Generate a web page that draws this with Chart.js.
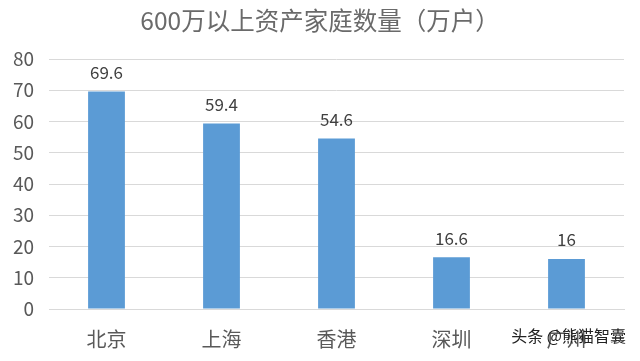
<!DOCTYPE html>
<html><head><meta charset="utf-8">
<script src="https://cdn.jsdelivr.net/npm/chart.js@4/dist/chart.umd.min.js"></script>
<style>html,body{margin:0;padding:0;background:#fff}canvas{display:block}</style>
</head><body>
<canvas id="c" width="640" height="361"></canvas>
<script>
const categories = ['北京', '上海', '香港', '深圳', '广州'];
const values = [69.6, 59.4, 54.6, 16.6, 16];
const yTicks = [0, 10, 20, 30, 40, 50, 60, 70, 80];
const titleText = '600万以上资产家庭数量（万户）';
const watermark = '头条 @熊猫智囊';

const FONT = '"Noto Sans CJK SC", "Noto Sans", sans-serif';

const labelPlugin = {
  id: 'labels',
  afterDatasetsDraw(chart) {
    const ctx = chart.ctx;
    const meta = chart.getDatasetMeta(0);
    ctx.save();
    ctx.font = '17px ' + FONT;
    ctx.fillStyle = '#404040';
    ctx.textAlign = 'center';
    ctx.textBaseline = 'middle';
    meta.data.forEach((bar, i) => {
      ctx.fillText(String(values[i]), bar.x, bar.y - 19);
    });
    ctx.restore();
  },
  afterDraw(chart) {
    const ctx = chart.ctx;
    ctx.save();
    ctx.font = '24.5px ' + FONT;
    ctx.fillStyle = '#6a6a6a';
    ctx.textAlign = 'center';
    ctx.textBaseline = 'middle';
    ctx.fillText(titleText, 320, 21);
    ctx.font = '16px ' + FONT;
    ctx.fillStyle = '#222';
    ctx.textAlign = 'right';
    ctx.fillText(watermark, 626, 336);
    ctx.restore();
  }
};

new Chart(document.getElementById('c'), {
  type: 'bar',
  data: {
    labels: categories,
    datasets: [{ data: values, backgroundColor: '#5B9BD5', barPercentage: 0.32, categoryPercentage: 1 }]
  },
  options: {
    responsive: false,
    animation: false,
    layout: { padding: { left: 0, right: 16, top: 59, bottom: 0 } },
    plugins: {
      legend: { display: false },
      tooltip: { enabled: false },
      title: { display: false }
    },
    scales: {
      x: {
        grid: { display: false },
        border: { color: '#d9d9d9' },
        ticks: { color: '#595959', font: { family: FONT, size: 20 }, padding: 10 },
        afterFit(s) { s.height = 52; }
      },
      y: {
        min: 0, max: 80,
        afterBuildTicks(s) { s.ticks = yTicks.map(v => ({ value: v })); },
        grid: { color: '#d9d9d9', drawTicks: false },
        border: { display: false },
        ticks: { color: '#595959', font: { family: FONT, size: 19 }, padding: 15 },
        afterFit(s) { s.width = 49; }
      }
    }
  },
  plugins: [labelPlugin]
});
</script>
</body></html>
